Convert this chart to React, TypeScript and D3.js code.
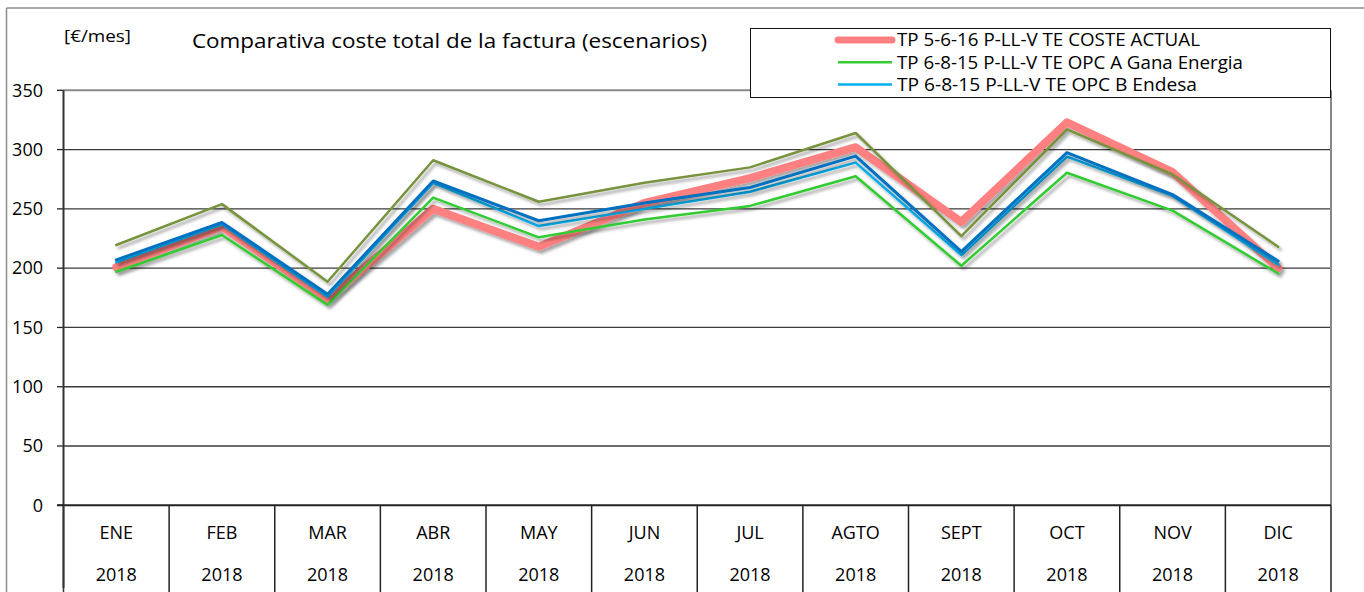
import React from "react";
import * as d3 from "d3";

const months = ["ENE", "FEB", "MAR", "ABR", "MAY", "JUN", "JUL", "AGTO", "SEPT", "OCT", "NOV", "DIC"];
const years = ["2018", "2018", "2018", "2018", "2018", "2018", "2018", "2018", "2018", "2018", "2018", "2018"];
const yTicks = [0, 50, 100, 150, 200, 250, 300, 350];

const costeActual = [201, 235, 174, 250, 218, 255, 276, 302, 239, 323, 281, 200];
const opcA = [197, 228, 169, 259.5, 226, 241, 252.5, 277.5, 202, 280.5, 248.5, 195.5];
const opcB = [205, 237, 176, 272, 235.5, 250, 264.5, 289, 211, 294, 261, 203];
const serie4 = [207, 238.5, 178, 273.5, 240, 255, 268, 294.5, 214, 297.5, 262, 206];
const serie5 = [219.5, 254, 188.5, 291, 256, 272, 285, 314, 227, 317, 279, 218];

const legendNames = [
  "TP 5-6-16 P-LL-V TE COSTE ACTUAL",
  "TP 6-8-15 P-LL-V TE OPC A Gana Energia",
  "TP 6-8-15 P-LL-V TE OPC B Endesa",
];

const W = 1364;
const H = 592;
const left = 63.5;
const right = 1331;
const top = 90.3;
const bottom = 505.3;
const FONT = "'Open Sans', 'Noto Sans', sans-serif";

export default function App() {
  const x = d3.scaleBand<string>().domain(months).range([left, right]).padding(0);
  const y = d3.scaleLinear().domain([0, 350]).range([bottom, top]);
  const line = d3
    .line<number>()
    .x((_, i) => (x(months[i]) as number) + x.bandwidth() / 2)
    .y((d) => y(d));

  const series = [
    { data: costeActual, color: "#FF8080", width: 8 },
    { data: opcA, color: "#33CC33", width: 2.5 },
    { data: opcB, color: "#00B0F0", width: 2.5 },
    { data: serie4, color: "#0070C0", width: 3 },
    { data: serie5, color: "#77933C", width: 2.5 },
  ];

  const legend = [
    { name: legendNames[0], color: "#FF8080", width: 7, len: 303 },
    { name: legendNames[1], color: "#33CC33", width: 2.5, len: 346 },
    { name: legendNames[2], color: "#00B0F0", width: 2.5, len: 300 },
  ];

  const boundaries = months.map((m) => x(m) as number).concat([right]);

  return (
    <svg
      width={W}
      height={H}
      style={{ position: "absolute", left: 0, top: 0, background: "#fff" }}
      fontFamily={FONT}
    >
      <defs>
        <filter id="sh" x="-5%" y="-20%" width="110%" height="140%">
          <feDropShadow dx="2.5" dy="3" stdDeviation="1.6" floodColor="#000" floodOpacity="0.35" />
        </filter>
      </defs>
      <rect x={0} y={0} width={W} height={H} fill="#fff" />
      {/* outer frame */}
      <line x1={6.5} x2={6.5} y1={8} y2={H} stroke="#8c8c8c" strokeWidth={1.5} />
      <line x1={6.5} x2={W} y1={8} y2={8} stroke="#8c8c8c" strokeWidth={1.5} />

      {/* gridlines */}
      {yTicks
        .filter((t) => t > 0 && t < 350)
        .map((t) => (
          <line key={t} x1={left} x2={right} y1={y(t)} y2={y(t)} stroke="#3a3a3a" strokeWidth={1.3} />
        ))}
      {/* plot border top/right */}
      <line x1={left} x2={right} y1={top} y2={top} stroke="#888" strokeWidth={2} />
      <line x1={right} x2={right} y1={top} y2={bottom} stroke="#888" strokeWidth={2} />

      {/* y ticks & labels */}
      {yTicks.map((t) => (
        <g key={"t" + t}>
          <line x1={57} x2={left} y1={y(t)} y2={y(t)} stroke="#222" strokeWidth={1.3} />
          <text x={43} y={y(t)} dy="0.35em" textAnchor="end" fontSize={18} fill="#000">
            {t}
          </text>
        </g>
      ))}

      {/* category separators */}
      {boundaries.map((b, i) => (
        <line key={"b" + i} x1={b} x2={b} y1={bottom} y2={H} stroke={i === 0 ? "#333" : "#222"} strokeWidth={1.5} />
      ))}
      {/* left axis */}
      <line x1={left} x2={left} y1={top} y2={588} stroke="#333" strokeWidth={2} />
      {/* bottom axis */}
      <line x1={57} x2={right} y1={bottom} y2={bottom} stroke="#222" strokeWidth={2} />

      {/* category labels */}
      {months.map((m, i) => (
        <g key={m}>
          <text x={(x(m) as number) + x.bandwidth() / 2} y={539} textAnchor="middle" fontSize={18} fill="#000">
            {m}
          </text>
          <text x={(x(m) as number) + x.bandwidth() / 2} y={581} textAnchor="middle" fontSize={18} fill="#000">
            {years[i]}
          </text>
        </g>
      ))}

      {/* series */}
      {series.map((s, i) => (
        <path
          key={i}
          d={line(s.data) as string}
          fill="none"
          stroke={s.color}
          strokeWidth={s.width}
          strokeLinejoin="round"
          strokeLinecap="round"
          filter="url(#sh)"
        />
      ))}

      {/* titles */}
      <text x={64} y={42} fontSize={17} fill="#000" textLength={67} lengthAdjust="spacingAndGlyphs">
        [€/mes]
      </text>
      <text x={192} y={48} fontSize={20} fill="#000" textLength={515} lengthAdjust="spacingAndGlyphs">
        Comparativa coste total de la factura (escenarios)
      </text>

      {/* legend */}
      <rect x={750.5} y={28.5} width={580} height={69} fill="#fff" stroke="#111" strokeWidth={1} />
      {legend.map((l, i) => {
        const cy = 40 + i * 22.3;
        return (
          <g key={l.name}>
            <line
              x1={838}
              x2={892}
              y1={cy}
              y2={cy}
              stroke={l.color}
              strokeWidth={l.width}
              strokeLinecap={i === 0 ? "round" : "butt"}
            />
            <text x={897} y={cy} dy="0.36em" fontSize={18} fill="#000" textLength={l.len} lengthAdjust="spacingAndGlyphs">
              {l.name}
            </text>
          </g>
        );
      })}
    </svg>
  );
}
